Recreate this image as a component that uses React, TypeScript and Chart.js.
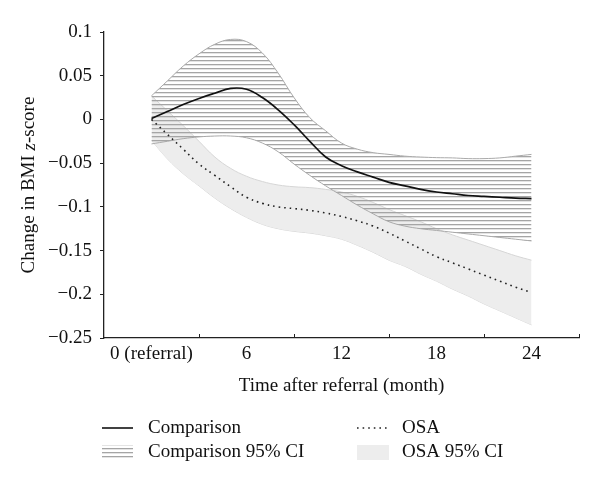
import React, { useEffect, useRef } from 'react';
import { Chart, registerables } from 'chart.js';

Chart.register(...registerables);

// ---- data ----
const months = [0, 1, 2, 3, 4, 5, 6, 7, 8, 9, 10, 11, 12, 13, 14, 15, 16, 17, 18, 19, 20, 21, 22, 23, 24];

const comparison = [0.001, 0.009, 0.017, 0.024, 0.030, 0.0355, 0.0345, 0.025, 0.011, -0.006, -0.025, -0.043, -0.053, -0.060, -0.066, -0.072, -0.076, -0.080, -0.083, -0.085, -0.087, -0.088, -0.089, -0.090, -0.0905];
const comparisonUpper = [0.027, 0.044, 0.061, 0.075, 0.086, 0.0915, 0.089, 0.076, 0.053, 0.025, 0.002, -0.013, -0.027, -0.034, -0.038, -0.040, -0.042, -0.043, -0.0437, -0.044, -0.0448, -0.0448, -0.044, -0.042, -0.040];
const comparisonLower = [-0.028, -0.025, -0.022, -0.020, -0.019, -0.019, -0.021, -0.027, -0.037, -0.051, -0.064, -0.076, -0.087, -0.098, -0.108, -0.117, -0.122, -0.125, -0.127, -0.129, -0.131, -0.133, -0.135, -0.137, -0.139];

const osa = [0.000, -0.017, -0.034, -0.051, -0.064, -0.077, -0.089, -0.096, -0.100, -0.102, -0.104, -0.107, -0.111, -0.116, -0.122, -0.130, -0.139, -0.148, -0.157, -0.164, -0.171, -0.178, -0.185, -0.192, -0.198];
const osaUpper = [0.027, 0.010, -0.007, -0.025, -0.043, -0.056, -0.065, -0.071, -0.075, -0.077, -0.078, -0.080, -0.083, -0.088, -0.095, -0.103, -0.110, -0.117, -0.125, -0.132, -0.138, -0.144, -0.150, -0.156, -0.161];
const osaLower = [-0.024, -0.045, -0.062, -0.076, -0.090, -0.102, -0.112, -0.120, -0.125, -0.128, -0.130, -0.133, -0.137, -0.144, -0.152, -0.161, -0.168, -0.177, -0.185, -0.194, -0.202, -0.211, -0.219, -0.227, -0.235];

const yTickValues = [0.1, 0.05, 0, -0.05, -0.1, -0.15, -0.2, -0.25];
const yTickLabels = ['0.1', '0.05', '0', '\u22120.05', '\u22120.1', '\u22120.15', '\u22120.2', '\u22120.25'];
const xTickValues = [0, 6, 12, 18, 24];
const xTickLabels = ['0 (referral)', '6', '12', '18', '24'];
const xTickMarks = [3, 9, 15, 21, 27];
const xMin = -3;
const xMax = 27;

const seriesLabels = ['Comparison', 'Comparison 95% CI', 'OSA', 'OSA 95% CI'];
const yTitleParts = ['Change in BMI ', 'z', '-score'];
const xTitle = 'Time after referral (month)';

const FONT = "'Liberation Serif', 'Times New Roman', serif";
const FS = 19;

function makeHatch(): CanvasPattern | string {
  const c = document.createElement('canvas');
  c.width = 8;
  c.height = 4;
  const g = c.getContext('2d');
  if (!g) return '#ccc';
  g.fillStyle = 'rgba(165,165,165,1)';
  g.fillRect(0, 0, 8, 1);
  g.fillStyle = 'rgba(165,165,165,0.3)';
  g.fillRect(0, 1, 8, 1);
  const p = g.createPattern(c, 'repeat');
  return p || '#ccc';
}

const pts = (vals: number[]) => months.map((m, i) => ({ x: m, y: vals[i] }));

export default function App() {
  const ref = useRef<HTMLCanvasElement | null>(null);

  useEffect(() => {
    if (!ref.current) return;
    const hatch = makeHatch();

    const decor = {
      id: 'decor',
      afterDraw(chart: any) {
        const ctx: CanvasRenderingContext2D = chart.ctx;
        const xs = chart.scales.x;
        const area = chart.chartArea;
        ctx.save();
        // inward tick marks on x axis
        ctx.strokeStyle = '#222';
        ctx.lineWidth = 1;
        xTickMarks.forEach((v) => {
          const px = Math.round(xs.getPixelForValue(v)) + 0.5;
          ctx.beginPath();
          ctx.moveTo(px, area.bottom);
          ctx.lineTo(px, area.bottom - 4);
          ctx.stroke();
        });

        // y axis title with italic z
        ctx.save();
        ctx.translate(29.5, (area.top + area.bottom) / 2);
        ctx.rotate(-Math.PI / 2);
        ctx.fillStyle = '#111';
        ctx.textBaseline = 'middle';
        ctx.textAlign = 'left';
        const fonts = [`${FS}px ${FONT}`, `italic ${FS}px ${FONT}`, `${FS}px ${FONT}`];
        let total = 0;
        const widths = yTitleParts.map((t, i) => {
          ctx.font = fonts[i];
          const w = ctx.measureText(t).width;
          total += w;
          return w;
        });
        let cx = -total / 2;
        yTitleParts.forEach((t, i) => {
          ctx.font = fonts[i];
          ctx.fillText(t, cx, 0);
          cx += widths[i];
        });
        ctx.restore();

        // legend
        const lx1 = area.left - 2;
        const lx2 = 357;
        const sw = 31;
        const r1 = 428;
        const r2 = 452;
        ctx.font = `${FS}px ${FONT}`;
        ctx.textBaseline = 'middle';
        ctx.textAlign = 'left';
        ctx.fillStyle = '#111';
        // Comparison
        ctx.strokeStyle = '#111';
        ctx.lineWidth = 1.6;
        ctx.setLineDash([]);
        ctx.beginPath();
        ctx.moveTo(lx1, r1);
        ctx.lineTo(lx1 + sw, r1);
        ctx.stroke();
        ctx.fillText(seriesLabels[0], lx1 + 46, r1);
        // Comparison CI
        ctx.fillStyle = hatch as any;
        ctx.fillRect(lx1, r2 - 7, sw, 14);
        ctx.fillStyle = '#111';
        ctx.fillText(seriesLabels[1], lx1 + 46, r2);
        // OSA
        ctx.strokeStyle = '#222';
        ctx.lineWidth = 1.6;
        ctx.setLineDash([1.6, 4]);
        ctx.beginPath();
        ctx.moveTo(lx2, r1);
        ctx.lineTo(lx2 + sw, r1);
        ctx.stroke();
        ctx.setLineDash([]);
        ctx.fillText(seriesLabels[2], lx2 + 45, r1);
        // OSA CI
        ctx.fillStyle = '#ededed';
        ctx.fillRect(lx2, r2 - 7, sw + 1, 15);
        ctx.fillStyle = '#111';
        ctx.fillText(seriesLabels[3], lx2 + 45, r2);
        ctx.restore();
      },
    };

    const common = { pointRadius: 0, tension: 0.4 };

    const chart = new Chart(ref.current, {
      type: 'line',
      data: {
        datasets: [
          {
            ...common,
            label: seriesLabels[0],
            data: pts(comparison),
            borderColor: '#111',
            borderWidth: 1.7,
            fill: false,
            order: 0,
          },
          {
            ...common,
            label: seriesLabels[2],
            data: pts(osa),
            borderColor: '#222',
            borderWidth: 1.6,
            borderDash: [1.6, 4],
            fill: false,
            order: 1,
          },
          {
            ...common,
            label: seriesLabels[1] + ' upper',
            data: pts(comparisonUpper),
            borderColor: '#aaaaaa',
            borderWidth: 1,
            fill: '+1',
            backgroundColor: hatch as any,
            order: 2,
          },
          {
            ...common,
            label: seriesLabels[1] + ' lower',
            data: pts(comparisonLower),
            borderColor: '#aaaaaa',
            borderWidth: 1,
            fill: false,
            order: 3,
          },
          {
            ...common,
            label: seriesLabels[3] + ' upper',
            data: pts(osaUpper),
            borderColor: '#d6d6d6',
            borderWidth: 1,
            fill: '+1',
            backgroundColor: '#ededed',
            order: 4,
          },
          {
            ...common,
            label: seriesLabels[3] + ' lower',
            data: pts(osaLower),
            borderColor: '#d6d6d6',
            borderWidth: 1,
            fill: false,
            order: 5,
          },
        ],
      },
      options: {
        responsive: false,
        animation: false,
        events: [],
        layout: { padding: { left: 0, right: 21, top: 32, bottom: 485 - 338 - 62 } },
        plugins: {
          legend: { display: false },
          tooltip: { enabled: false },
          title: { display: false },
        },
        scales: {
          x: {
            type: 'linear',
            min: xMin,
            max: xMax,
            afterBuildTicks: (s: any) => {
              s.ticks = xTickValues.map((v) => ({ value: v }));
            },
            afterFit: (s: any) => {
              s.height = 62;
            },
            ticks: {
              autoSkip: false,
              maxRotation: 0,
              padding: 5,
              color: '#111',
              font: { family: FONT, size: FS },
              callback: (v: any) => {
                const i = xTickValues.indexOf(Number(v));
                return i >= 0 ? xTickLabels[i] : '';
              },
            },
            grid: { display: false, drawTicks: false },
            border: { display: true, color: '#222', width: 1.3 },
            title: {
              display: true,
              text: xTitle,
              color: '#111',
              font: { family: FONT, size: FS },
              padding: { top: 0, bottom: 3 },
            },
          },
          y: {
            type: 'linear',
            min: -0.25,
            max: 0.1,
            afterBuildTicks: (s: any) => {
              s.ticks = yTickValues.map((v) => ({ value: v }));
            },
            afterFit: (s: any) => {
              s.width = 104;
            },
            ticks: {
              autoSkip: false,
              padding: 8,
              color: '#111',
              font: { family: FONT, size: FS },
              callback: (v: any) => {
                const n = Number(v);
                const i = yTickValues.findIndex((t) => Math.abs(t - n) < 1e-9);
                return i >= 0 ? yTickLabels[i] : '';
              },
            },
            grid: { display: true, drawOnChartArea: false, drawTicks: true, tickLength: 4, color: '#222', lineWidth: 1 },
            border: { display: true, color: '#222', width: 1.3 },
          },
        },
      } as any,
      plugins: [decor],
    });

    return () => chart.destroy();
  }, []);

  return (
    <div style={{ position: 'fixed', left: 0, top: 0, width: 600, height: 485, background: '#fff' }}>
      <canvas ref={ref} width={600} height={485} style={{ display: 'block' }} />
    </div>
  );
}
